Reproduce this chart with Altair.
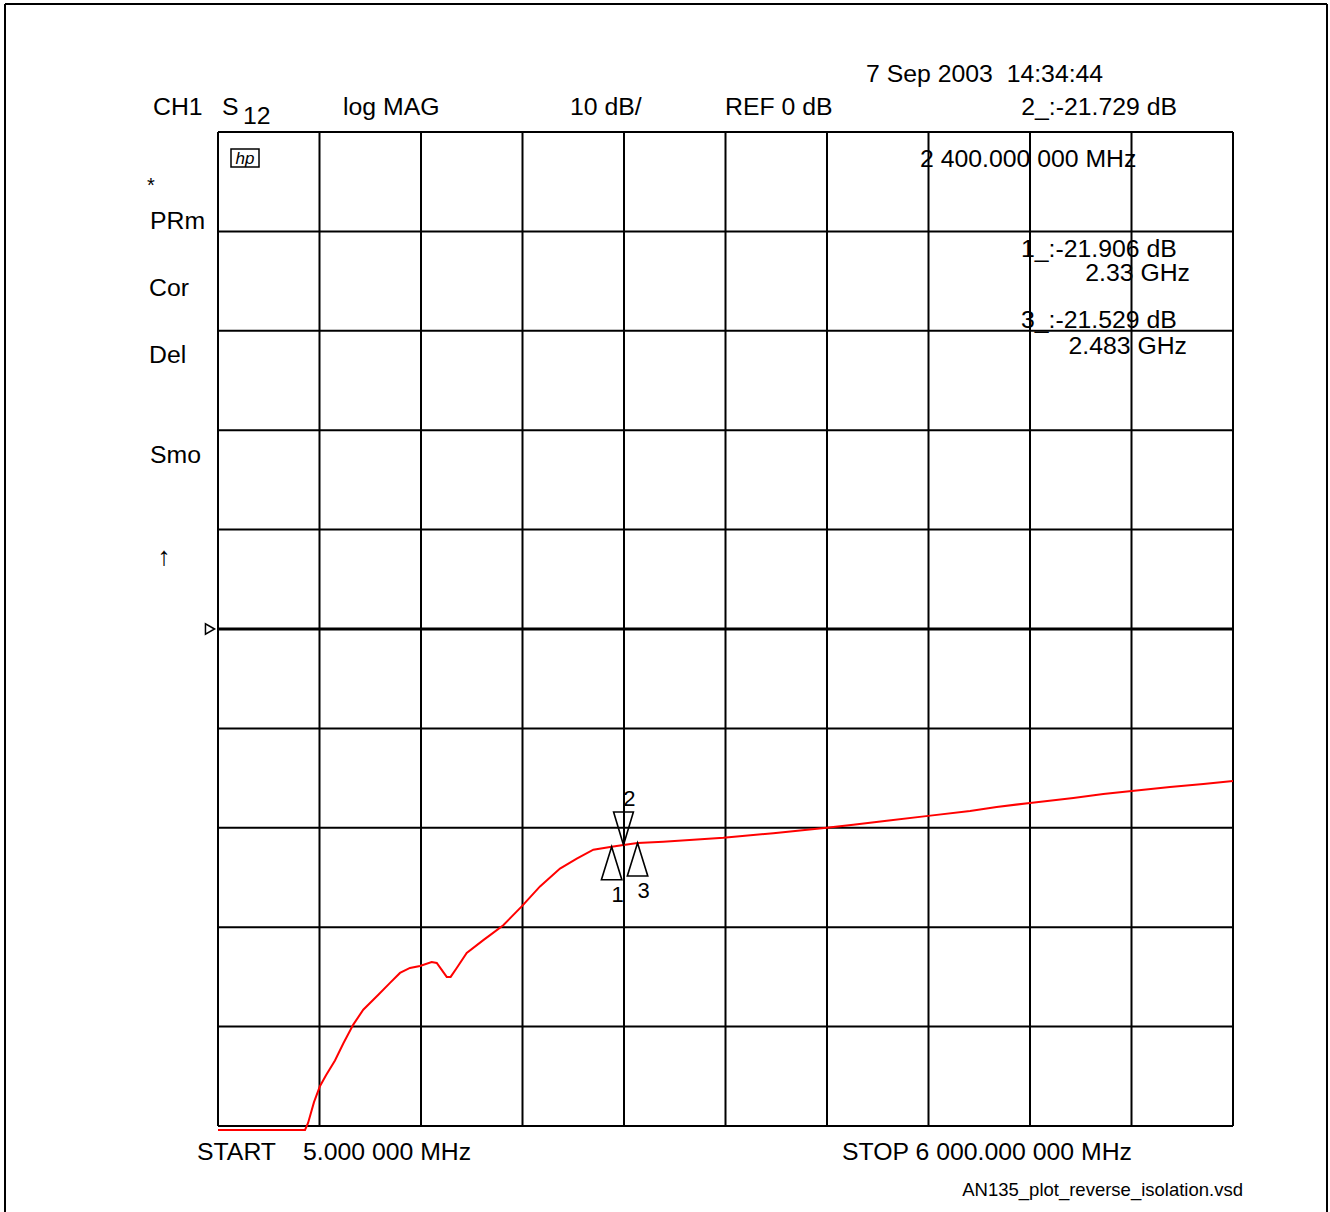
import altair as alt
import pandas as pd

# S12 reverse-isolation sweep, 5 MHz .. 6 GHz, 10 dB/div, REF 0 dB
freq_mhz = [5, 519, 537, 572, 607, 643, 696, 745, 804, 863,
            952, 1021, 1080, 1139, 1198, 1267, 1297, 1356, 1379, 1415,
            1474, 1572, 1612, 1690, 1799, 1907, 2025, 2124, 2222, 2330,
            2400, 2483, 2635, 2990, 3285, 3600, 3757, 3955, 4200, 4447,
            4604, 4801, 5057, 5234, 5402, 5628, 5825, 6000]
s12_db = [-50.4, -50.4, -49.7, -47.6, -46.0, -44.9, -43.4, -41.7, -39.8, -38.3,
          -36.8, -35.6, -34.6, -34.1, -33.9, -33.5, -33.6, -35.0, -35.0, -34.1,
          -32.6, -31.3, -30.8, -29.8, -27.9, -25.9, -24.1, -23.1, -22.2, -21.906,
          -21.729, -21.529, -21.4, -21.0, -20.55, -20.0, -19.7, -19.3, -18.8, -18.3,
          -17.9, -17.5, -17.0, -16.6, -16.3, -15.9, -15.6, -15.3]

# markers
marker_ids = ["1", "2", "3"]
marker_freq = [2330, 2400, 2483]
marker_db = [-21.906, -21.729, -21.529]
marker_dir = ["up", "down", "up"]

start_mhz, stop_mhz = 5, 6000
ref_db, db_per_div, n_div = 0, 10, 10
x_grid = [start_mhz + (stop_mhz - start_mhz) * k / n_div for k in range(n_div + 1)]
y_grid = [ref_db - db_per_div * n_div / 2 + db_per_div * k for k in range(n_div + 1)]

FONT = "Liberation Sans"
W, H = 1015, 994          # plot area
PL, PT = 218, 132         # padding to the plot area

trace = pd.DataFrame({"freq": freq_mhz, "db": s12_db})
markers = pd.DataFrame({"id": marker_ids, "freq": marker_freq,
                        "db": marker_db, "dir": marker_dir})

xs = alt.Scale(domain=[start_mhz, stop_mhz], nice=False, zero=False)
ys = alt.Scale(domain=[y_grid[0], y_grid[-1]], nice=False, zero=False)
MX = alt.X("freq:Q", scale=xs, axis=None)
MY = alt.Y("db:Q", scale=ys, axis=None)

# graticule
vgrid = alt.Chart(pd.DataFrame({"freq": x_grid})).mark_rule(
    color="black", strokeWidth=2).encode(x=MX)
hgrid = alt.Chart(pd.DataFrame({"db": y_grid})).mark_rule(
    color="black", strokeWidth=2).encode(y=MY)

ref_line = alt.Chart(pd.DataFrame({"db": [ref_db]})).mark_rule(
    color="black", strokeWidth=3).encode(y=MY)

ref_arrow = alt.Chart(pd.DataFrame({"db": [ref_db]})).mark_point(
    shape="triangle-right", filled=False, color="black", size=110, strokeWidth=1.5,
    opacity=1).encode(x=alt.value(-8), y=MY)

line = alt.Chart(trace).mark_line(color="#ff0000", strokeWidth=2, clip=False).encode(
    x=MX, y=MY)

up_tri = alt.Chart(markers).transform_filter(alt.datum.dir == "up").mark_point(
    shape="M0,0L-0.31,1L0.31,1Z", filled=False, color="black", size=4356,
    strokeWidth=1.6, opacity=1).encode(x=MX, y=MY)
down_tri = alt.Chart(markers).transform_filter(alt.datum.dir == "down").mark_point(
    shape="M0,0L-0.3,-1L0.3,-1Z", filled=False, color="black", size=4356,
    strokeWidth=1.6, opacity=1).encode(x=MX, y=MY)
up_lbl = alt.Chart(markers).transform_filter(alt.datum.dir == "up").mark_text(
    font=FONT, fontSize=22, color="black", dx=6, dy=48).encode(x=MX, y=MY, text="id:N")
down_lbl = alt.Chart(markers).transform_filter(alt.datum.dir == "down").mark_text(
    font=FONT, fontSize=22, color="black", dx=6, dy=-46).encode(x=MX, y=MY, text="id:N")

one = alt.Data(values=[{}])


def label(text, x, y, size=24.8, align="left", **kw):
    return alt.Chart(one).mark_text(
        text=text, align=align, baseline="middle", fontSize=size, font=FONT,
        color="black", **kw).encode(x=alt.value(x - PL), y=alt.value(y - PT + 1.5))


def frame_rule(x1, y1, x2, y2, w=2):
    return alt.Chart(one).mark_rule(color="black", strokeWidth=w).encode(
        x=alt.value(x1 - PL), x2=alt.value(x2 - PL),
        y=alt.value(y1 - PT), y2=alt.value(y2 - PT))


m = dict(zip(marker_ids, zip(marker_freq, marker_db)))
f2 = f"{m['2'][0]:,.6f}".replace(",", " ")
f2 = f2[:-3] + " " + f2[-3:]

texts = [
    label("7 Sep 2003\u00a0 14:34:44", 866, 73),
    label("CH1", 153, 106),
    label("S", 222, 106),
    label("12", 243, 115),
    label("log MAG", 343, 106),
    label(f"{db_per_div} dB/", 570, 106),
    label(f"REF {ref_db} dB", 725, 106),
    label(f"2_:{m['2'][1]:.3f} dB", 1177, 106, align="right"),
    label(f"{f2} MHz", 920, 158),
    label(f"1_:{m['1'][1]:.3f} dB", 1021, 248),
    label(f"{m['1'][0] / 1000:g} GHz", 1190, 272, align="right"),
    label(f"3_:{m['3'][1]:.3f} dB", 1021, 319),
    label(f"{m['3'][0] / 1000:g} GHz", 1187, 345, align="right"),
    label("*", 151, 184, size=20, align="center"),
    label("PRm", 150, 220),
    label("Cor", 149, 287),
    label("Del", 149, 354),
    label("Smo", 150, 454),
    label("↑", 164, 555, size=26, align="center"),
    label("START", 197, 1151),
    label("5.000 000 MHz", 303, 1151),
    label("STOP 6 000.000 000 MHz", 1132, 1151, align="right"),
    label("AN135_plot_reverse_isolation.vsd", 1243, 1188, size=18.5, align="right"),
    label("hp", 245, 157, size=17, align="center", fontStyle="italic"),
]

hp_box = alt.Chart(one).mark_rect(fill="transparent", stroke="black", strokeWidth=1.5).encode(
    x=alt.value(231 - PL), x2=alt.value(259 - PL), y=alt.value(149 - PT), y2=alt.value(167 - PT))

frame = [
    frame_rule(5, 4, 1327, 4),
    frame_rule(5, 4, 5, 1212),
    frame_rule(1327, 4, 1327, 1212),
]

chart = alt.layer(
    vgrid, hgrid, ref_line, ref_arrow, line, up_tri, down_tri, up_lbl, down_lbl,
    hp_box, *texts, *frame
).properties(
    width=W, height=H,
    autosize=alt.AutoSizeParams(type="none"),
    padding={"left": PL, "top": PT, "right": 1330 - PL - W, "bottom": 1212 - PT - H},
    background="white",
).configure_view(strokeOpacity=0)

chart.save("out.html", embed_options={"renderer": "svg", "actions": False})
